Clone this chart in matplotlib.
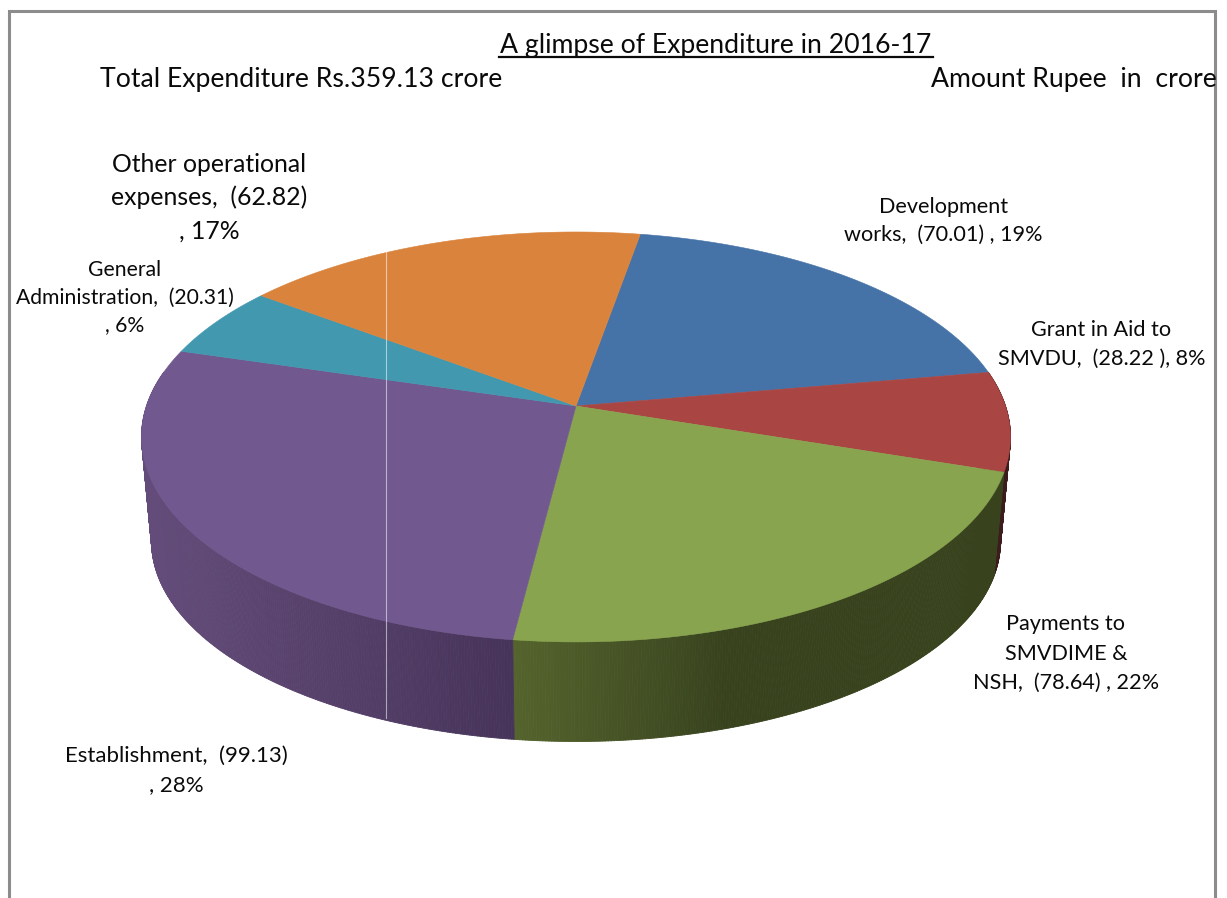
import numpy as np
import matplotlib
matplotlib.use("Agg")
import matplotlib.pyplot as plt
from matplotlib.collections import PolyCollection

categories = ["Development works", "Grant in Aid to SMVDU", "Payments to SMVDIME & NSH",
              "Establishment", "General Administration", "Other operational expenses"]
values = [70.01, 28.22, 78.64, 99.13, 20.31, 62.82]
percents = [19, 8, 22, 28, 6, 17]
colors = ["#4572A7", "#A94543", "#88A44E", "#71588F", "#4198AF", "#DA833C"]
wall_light = ["#345580", "#4A2020", "#55642D", "#634C79", "#2F6F80", "#A06030"]
wall_dark = ["#2A4468", "#3C1C1C", "#38431E", "#47345A", "#265A68", "#804C26"]

plt.rcParams['font.family'] = ['Lato', 'DejaVu Sans']
W, H = 1227, 898
fig = plt.figure(figsize=(W / 100, H / 100), dpi=100, facecolor="white")
ax = fig.add_axes([0, 0, 1, 1])
ax.set_xlim(0, W)
ax.set_ylim(H, 0)
ax.axis("off")

# pie projection (pixels)
CX, CY = 576, 406
A, B, K = 200.3, 429.5, 0.151
START = 9.9
DEPTH, SHRINK = 105, 0.977


def project(theta_deg, r=1.0):
    t = np.radians(theta_deg)
    u, v = r * np.sin(t), r * np.cos(t)
    den = 1 + K * v
    return B * u / den, A * v / den


def top(theta_deg, r=1.0):
    x, y = project(theta_deg, r)
    return CX + x, CY - y


def bottom(theta_deg):
    x, y = project(theta_deg)
    return CX + SHRINK * x, CY - SHRINK * y + DEPTH


edges = START + np.concatenate([[0], np.cumsum(values)]) / np.sum(values) * 360

# side wall
polys, cols = [], []
for i in range(len(values)):
    lo, hi = max(edges[i], 80), min(edges[i + 1], 280)
    if hi <= lo:
        continue
    th = np.linspace(lo, hi, int((hi - lo) * 3) + 2)
    c0 = np.array(matplotlib.colors.to_rgb(wall_light[i]))
    c1 = np.array(matplotlib.colors.to_rgb(wall_dark[i]))
    for a, b in zip(th[:-1], th[1:]):
        xa, _ = top(a)
        if i == 3:
            f = np.clip((512 - xa) / 360, 0, 1)
            c = c1 + (c0 - c1) * f
        elif i == 2:
            f = np.clip((xa - 512) / 215, 0, 1)
            c = c0 + (c1 - c0) * f
        else:
            c = c1
        polys.append([top(a), top(b), bottom(b), bottom(a)])
        cols.append(c)
ax.add_collection(PolyCollection(polys, facecolors=cols, edgecolors=cols, linewidths=0.6, zorder=2))

# top face
for i in range(len(values)):
    th = np.linspace(edges[i], edges[i + 1], 200)
    xs, ys = top(th)
    ax.fill(np.r_[CX, xs], np.r_[CY, ys], facecolor=colors[i], edgecolor=colors[i], lw=0.4, zorder=3)

# artefact line and frame
ax.plot([386, 386], [252, 718], color="white", alpha=0.55, lw=0.8, zorder=4)
ax.plot([8.5, 8.5, 1215, 1215], [H, 10.5, 10.5, H], color="#8C8C8C", lw=2.2,
        solid_joinstyle="miter", zorder=1)

BIG, SMALL = 19.15, 15.6
INK = "#0A0A0A"
ax.text(716, 45, "A glimpse of Expenditure in 2016-17", fontsize=BIG, ha="center", va="center", color=INK, zorder=5)
ax.plot([499, 933], [57, 57], color=INK, lw=1.6, zorder=5)
ax.text(301, 80, "Total Expenditure Rs.359.13 crore", fontsize=BIG, ha="center", va="center", color=INK, zorder=5)
ax.text(1073.5, 79, "Amount Rupee  in  crore", fontsize=BIG, ha="center", va="center", color=INK, zorder=5)


def label(x, ys, lines, size):
    for y, s in zip(ys, lines):
        ax.text(x, y, s, fontsize=size, ha="center", va="center", color=INK, zorder=5)


label(209, [165, 197, 231],
      ["Other operational", f"expenses,  ({values[5]:.2f})", f", {percents[5]}%"], 17.8)
label(125, [270, 298, 325],
      ["General", f"Administration,  ({values[4]:.2f})", f", {percents[4]}%"], 15.2)
label(943.5, [207, 235],
      ["Development", f"works,  ({values[0]:.2f}) , {percents[0]}%"], SMALL)
label(1101.5, [330, 359],
      ["Grant in Aid to", f"SMVDU,  ({values[1]:.2f} ), {percents[1]}%"], SMALL)
label(1066, [624, 654, 683],
      ["Payments to", "SMVDIME &", f"NSH,  ({values[2]:.2f}) , {percents[2]}%"], SMALL)
label(176.5, [756, 785],
      [f"Establishment,  ({values[3]:.2f})", f", {percents[3]}%"], 16.05)

fig.savefig("out.png", dpi=100, facecolor="white")
